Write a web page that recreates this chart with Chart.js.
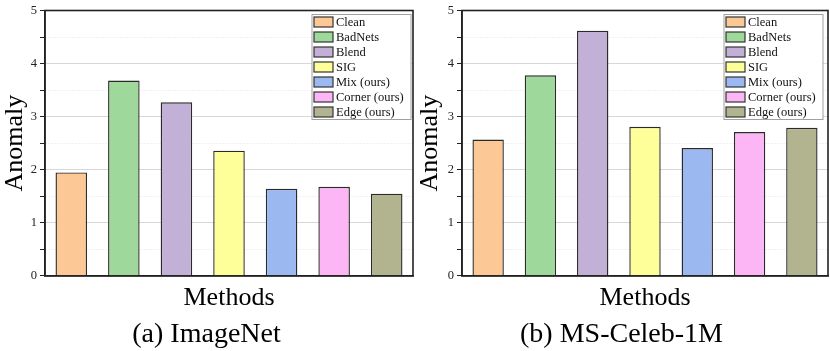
<!DOCTYPE html>
<html lang="en">
<head>
<meta charset="UTF-8">
<title>Anomaly per method</title>
<script src="https://cdn.jsdelivr.net/npm/chart.js"></script>
<style>
  html, body { margin: 0; padding: 0; background: #fff; }
  .panel { position: absolute; top: 0; width: 415px; height: 351px; }
  #left { left: 0; }
  #right { left: 415px; }
</style>
</head>
<body>
<div class="panel" id="left"><canvas id="chartA"></canvas></div>
<div class="panel" id="right"><canvas id="chartB"></canvas></div>

<script>
// data
const methods = ['Clean', 'BadNets', 'Blend', 'SIG', 'Mix (ours)', 'Corner (ours)', 'Edge (ours)'];
const imagenetValues = [1.95, 3.68, 3.27, 2.36, 1.64, 1.68, 1.55];
const celebValues = [2.57, 3.78, 4.62, 2.81, 2.41, 2.71, 2.79];
const yTickLabels = ['0', '1', '2', '3', '4', '5'];
const barColors = ['#FCC895', '#9ED89B', '#C3B0D6', '#FFFF9A', '#9BB9F0', '#FDB6F5', '#B2B48F'];

const serif = "'Liberation Serif', 'DejaVu Serif', serif";

// box around the plot + legend inside top right
const framePlugin = {
    id: 'frameAndLegend',
    afterDraw(chart, args, opts) {
        const ctx = chart.ctx;
        const a = chart.chartArea;
        ctx.save();
        ctx.strokeStyle = '#222';
        ctx.lineWidth = 1.6;
        ctx.strokeRect(a.left, a.top, a.right - a.left, a.bottom - a.top);

        // legend
        const rowH = 15;
        const boxW = 99;
        const x0 = a.right - opts.rightGap - boxW;
        const y0 = a.top + 4;
        const n = chart.data.datasets.length;
        ctx.fillStyle = '#fff';
        ctx.fillRect(x0, y0, boxW, n * rowH);
        ctx.strokeStyle = '#a0a0a0';
        ctx.lineWidth = 1;
        ctx.strokeRect(x0, y0, boxW, n * rowH);
        ctx.font = '12.5px ' + serif;
        ctx.textBaseline = 'middle';
        chart.data.datasets.forEach((ds, i) => {
            const cy = y0 + rowH * i + rowH / 2;
            ctx.fillStyle = ds.backgroundColor;
            ctx.fillRect(x0 + 2, cy - 5, 19, 10);
            ctx.strokeStyle = '#333';
            ctx.lineWidth = 1.2;
            ctx.strokeRect(x0 + 2, cy - 5, 19, 10);
            ctx.fillStyle = '#111';
            ctx.fillText(ds.label, x0 + 24, cy + 0.5);
        });
        ctx.restore();
    }
};

function makeChart(canvasId, values, subtitle, yWidth, rightGap) {
    const datasets = methods.map((m, i) => ({
        label: m,
        data: [values[i]],
        backgroundColor: barColors[i],
        borderColor: '#2a2a2a',
        borderWidth: 1.4,
        barPercentage: 0.6,
        categoryPercentage: 1
    }));

    const config = {
        type: 'bar',
        data: {
            labels: [''],
            datasets: datasets
        },
        plugins: [framePlugin],
        options: {
            responsive: true,
            maintainAspectRatio: false,
            animation: false,
            layout: { padding: { top: 8, right: 2, left: 0, bottom: 0 } },
            plugins: {
                legend: { display: false },
                tooltip: { enabled: false },
                title: {
                    display: true,
                    position: 'bottom',
                    text: subtitle,
                    color: '#000',
                    font: { family: serif, size: 28, weight: 'normal' },
                    padding: { top: 4, bottom: 0 }
                },
                frameAndLegend: { rightGap: rightGap }
            },
            scales: {
                x: {
                    ticks: { display: false },
                    grid: { display: false, drawTicks: false },
                    border: { color: '#222', width: 1.6 },
                    title: {
                        display: true,
                        text: 'Methods',
                        color: '#000',
                        font: { family: serif, size: 26 },
                        padding: { top: 1, bottom: 0 }
                    },
                    afterFit(scale) { scale.height = 37.5; }
                },
                y: {
                    min: 0,
                    max: 5,
                    ticks: {
                        stepSize: 0.5,
                        autoSkip: false,
                        color: '#222',
                        padding: 3,
                        font: { family: serif, size: 12.5 },
                        callback: (v) => Number.isInteger(v) ? yTickLabels[v] : ''
                    },
                    grid: {
                        tickLength: 5,
                        tickColor: '#222',
                        color: (c) => {
                            const v = c.tick ? c.tick.value : 0;
                            if (v === 0 || v === 5) return 'rgba(0,0,0,0)';
                            return Number.isInteger(v) ? '#d8d8d8' : '#e2e2e2';
                        },
                        lineWidth: 1
                    },
                    border: {
                        color: '#222',
                        width: 1.6,
                        dash: (c) => (c.tick && !Number.isInteger(c.tick.value)) ? [1, 2] : []
                    },
                    title: {
                        display: true,
                        text: 'Anomaly',
                        color: '#000',
                        font: { family: serif, size: 26 },
                        padding: { top: 0, bottom: 0 }
                    },
                    afterFit(scale) { scale.width = yWidth; }
                }
            }
        }
    };

    return new Chart(document.getElementById(canvasId).getContext('2d'), config);
}

makeChart('chartA', imagenetValues, '(a) ImageNet', 45, 2);
makeChart('chartB', celebValues, '(b) MS-Celeb-1M', 47, 5);
</script>
</body>
</html>
